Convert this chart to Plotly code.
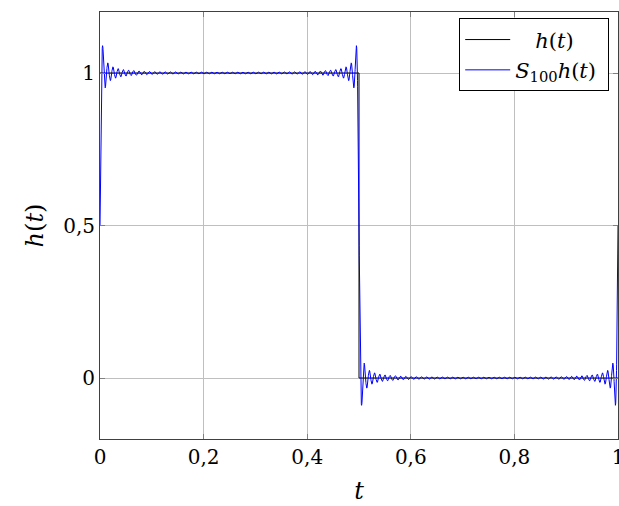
import numpy as np
import plotly.graph_objects as go

# Step function h(t) corners
h_t = [0.0, 0.5, 0.5, 1.0]
h_v = [1.0, 1.0, 0.0, 0.0]

# Fourier partial sum parameters: S_N h(t) = a0 + sum b_k sin(2 pi k t), odd k <= N
N_TERMS = 100
a0 = 0.5
harmonics = [k for k in range(1, N_TERMS + 1) if k % 2 == 1]
b_coef = [2.0 / (np.pi * k) for k in harmonics]

x_ticks = [0, 0.2, 0.4, 0.6, 0.8, 1]
x_labels = ["0", "0,2", "0,4", "0,6", "0,8", "1"]
y_ticks = [0, 0.5, 1]
y_labels = ["0", "0,5", "1"]

t = np.linspace(0, 1, 6001)
s = np.full_like(t, a0)
for k, b in zip(harmonics, b_coef):
    s += b * np.sin(2 * np.pi * k * t)

fig = go.Figure()
fig.add_trace(go.Scatter(x=h_t, y=h_v, mode="lines", line=dict(color="black", width=1),
                         name="   <i>h</i>(<i>t</i>)"))
fig.add_trace(go.Scatter(x=t, y=s, mode="lines", line=dict(color="blue", width=1),
                         name="<i>S</i><sub>100</sub><i>h</i>(<i>t</i>) "))

FAM = "DejaVu Serif"
font = dict(family=FAM, size=20, color="black")
fig.update_layout(
    width=619, height=506,
    margin=dict(l=100, r=1, t=12, b=67),
    paper_bgcolor="white", plot_bgcolor="white",
    font=font,
    showlegend=True,
    legend=dict(x=0.983, y=0.985, xanchor="right", yanchor="top",
                bordercolor="black", borderwidth=1, bgcolor="white",
                font=dict(family=FAM, size=21), tracegroupgap=4, itemwidth=45),
)
fig.update_xaxes(range=[0, 1], tickvals=x_ticks, ticktext=x_labels,
                 ticklabeloverflow="allow", automargin=False,
                 showgrid=True, gridcolor="#bfbfbf", gridwidth=1,
                 showline=True, linecolor="#404040", linewidth=1, mirror="ticks",
                 ticks="inside", ticklen=5, tickcolor="#808080",
                 zeroline=False,
                 title=dict(text="<i>t</i>", standoff=14))
fig.update_yaxes(range=[-0.2, 1.2], tickvals=y_ticks, ticktext=y_labels,
                 automargin=False,
                 showgrid=True, gridcolor="#bfbfbf", gridwidth=1,
                 showline=True, linecolor="#404040", linewidth=1, mirror="ticks",
                 ticks="inside", ticklen=5, tickcolor="#808080",
                 zeroline=False,
                 title=dict(text="<i>h</i>(<i>t</i>)", standoff=12))

fig.write_html("out.html")
